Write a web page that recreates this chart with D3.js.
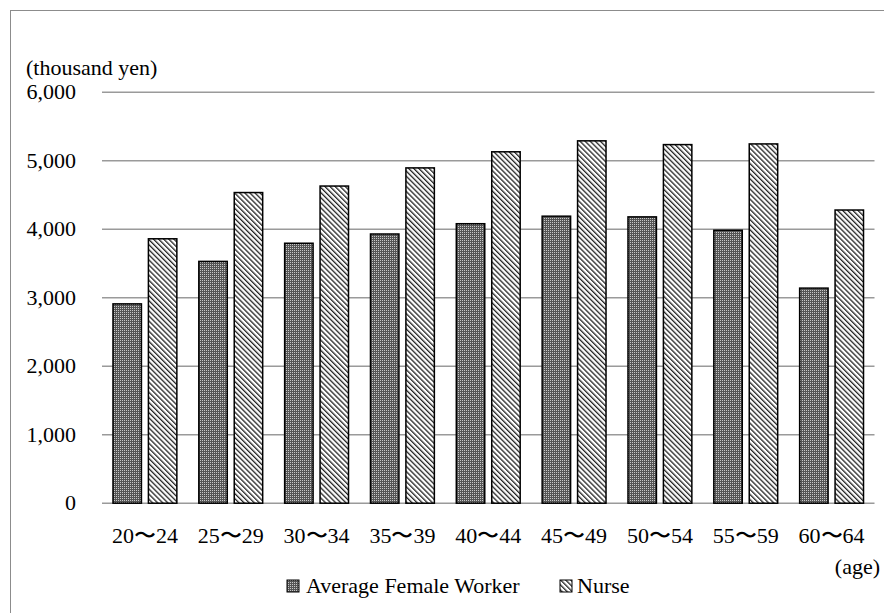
<!DOCTYPE html>
<html>
<head>
<meta charset="utf-8">
<script src="https://cdn.jsdelivr.net/npm/d3@7"></script>
<style>
  html, body { margin: 0; padding: 0; background: #fff; }
  svg { display: block; }
</style>
</head>
<body>
<svg id="chart" width="884" height="613"></svg>
<script>
const categories = ["20〜24", "25〜29", "30〜34", "35〜39", "40〜44", "45〜49", "50〜54", "55〜59", "60〜64"];
const femaleWorker = [2910, 3530, 3795, 3930, 4080, 4190, 4180, 3985, 3140];
const nurse = [3860, 4535, 4630, 4895, 5130, 5290, 5235, 5245, 4280];
const seriesNames = ["Average Female Worker", "Nurse"];
const yTicks = [0, 1000, 2000, 3000, 4000, 5000, 6000];

(function () {
const FONT = "'Liberation Serif', 'Times New Roman', Times, 'DejaVu Serif', serif";
const svg = d3.select("#chart").attr("font-family", FONT).style("font-family", FONT);
const W = 884, H = 613;
const mLeft = 102, mRight = 874.5, mTop = 92.2, mBottom = 503.2;

// frame
svg.append("rect").attr("x", 10.5).attr("y", 10.5).attr("width", W).attr("height", H)
  .attr("fill", "#fff").attr("stroke", "#8c8c8c").attr("stroke-width", 1);

// patterns
const defs = svg.append("defs");
const pDot = defs.append("pattern").attr("id", "pDot").attr("patternUnits", "userSpaceOnUse")
  .attr("width", 2).attr("height", 2);
pDot.append("rect").attr("width", 2).attr("height", 2).attr("fill", "#555");
pDot.append("rect").attr("width", 1).attr("height", 1).attr("fill", "#c8c8c8");

const pStripe = defs.append("pattern").attr("id", "pStripe").attr("patternUnits", "userSpaceOnUse")
  .attr("width", 3.6).attr("height", 3.6).attr("patternTransform", "rotate(-45)");
pStripe.append("rect").attr("width", 3.6).attr("height", 3.6).attr("fill", "#fff");
pStripe.append("rect").attr("x", 0).attr("width", 1.3).attr("height", 3.6).attr("fill", "#222");

const fills = ["url(#pDot)", "url(#pStripe)"];

const x = d3.scaleBand().domain(categories).range([mLeft, mRight]).paddingInner(0).paddingOuter(0);
const xs = d3.scaleBand().domain([0, 1]).range([0, x.bandwidth()]).paddingInner(0.197).paddingOuter(0.31);
const y = d3.scaleLinear().domain([0, 6000]).range([mBottom, mTop]);

// gridlines
svg.append("g").selectAll("line").data(yTicks).join("line")
  .attr("x1", mLeft).attr("x2", mRight)
  .attr("y1", d => y(d)).attr("y2", d => y(d))
  .attr("stroke", "#9a9a9a").attr("stroke-width", d => d === 0 ? 1.6 : 1.4);

// y tick labels
svg.append("g").selectAll("text").data(yTicks).join("text")
  .attr("x", 76).attr("y", d => y(d) + 7)
  .attr("text-anchor", "end").attr("font-size", 22).attr("font-family", FONT)
  .text(d => d3.format(",")(d));

svg.append("text").attr("x", 26).attr("y", 75).attr("font-size", 22).attr("font-family", FONT)
  .text("(thousand yen)");

// bars
const series = [femaleWorker, nurse];
series.forEach((vals, si) => {
  svg.append("g").selectAll("rect").data(categories).join("rect")
    .attr("x", (c) => x(c) + xs(si))
    .attr("width", xs.bandwidth())
    .attr("y", (c, i) => y(vals[i]))
    .attr("height", (c, i) => y(0) - y(vals[i]))
    .attr("fill", fills[si])
    .attr("stroke", "#000").attr("stroke-width", 1.5);
});

// category labels
svg.append("g").selectAll("text").data(categories).join("text")
  .attr("x", c => x(c) + x.bandwidth() / 2).attr("y", 543)
  .attr("text-anchor", "middle").attr("font-size", 22).attr("font-family", FONT)
  .text(c => c);

svg.append("text").attr("x", 880).attr("y", 574).attr("text-anchor", "end")
  .attr("font-size", 22).attr("font-family", FONT).text("(age)");

// legend
const legendX = [287, 560];
const legendTextX = [306, 577];
seriesNames.forEach((name, i) => {
  svg.append("rect").attr("x", legendX[i]).attr("y", 580).attr("width", 12).attr("height", 12)
    .attr("fill", fills[i]).attr("stroke", "#000").attr("stroke-width", 1);
  svg.append("text").attr("x", legendTextX[i]).attr("y", 593).attr("font-size", 22)
    .attr("font-family", FONT).text(name);
});
})();
</script>
</body>
</html>
